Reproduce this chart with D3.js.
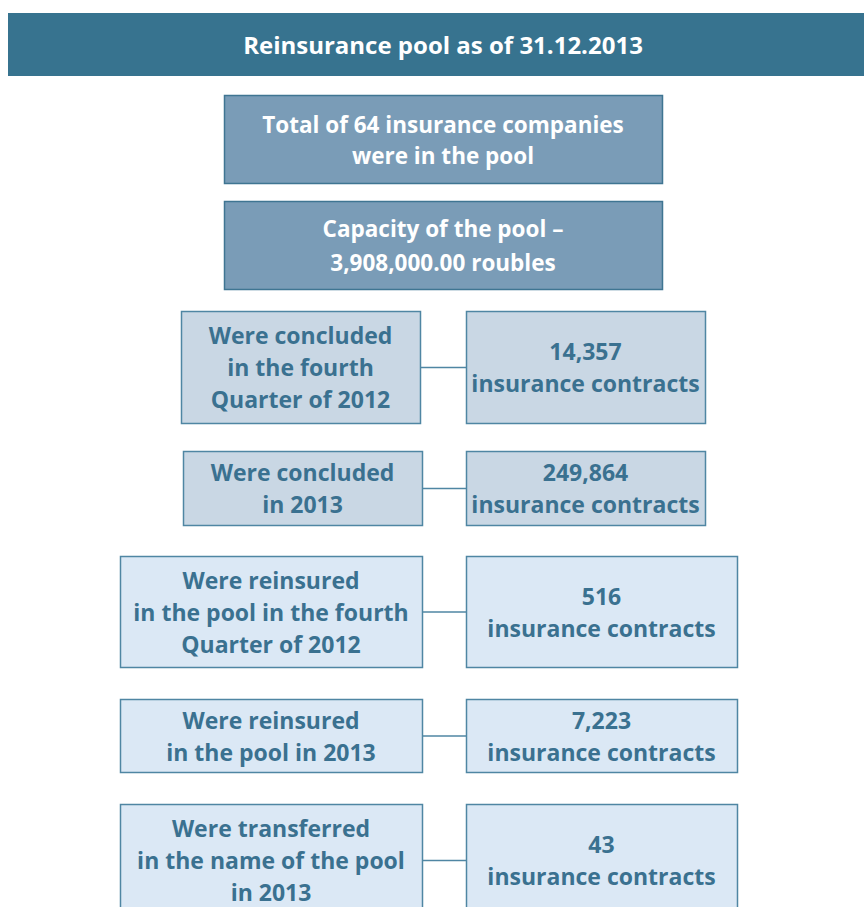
<!DOCTYPE html>
<html>
<head>
<meta charset="utf-8">
<script src="https://cdn.jsdelivr.net/npm/d3@7"></script>
<style>
  body { margin: 0; background: #fff; }
  svg text { font-family: "Open Sans", Lato, sans-serif; font-weight: 700; }
</style>
</head>
<body>
<div id="chart"></div>
<script>
'use strict';

// data
var title = "Reinsurance pool as of 31.12.2013";
var poolFacts = [
  ["Total of 64 insurance companies", "were in the pool"],
  ["Capacity of the pool \u2013", "3,908,000.00 roubles"]
];
var stageLabels = [
  ["Were concluded", "in the fourth", "Quarter of 2012"],
  ["Were concluded", "in 2013"],
  ["Were reinsured", "in the pool in the fourth", "Quarter of 2012"],
  ["Were reinsured", "in the pool in 2013"],
  ["Were transferred", "in the name of the pool", "in 2013"]
];
var contractCounts = [14357, 249864, 516, 7223, 43];
var countUnit = "insurance contracts";

var width = 864, height = 907;
var fmt = d3.format(",");

var svg = d3.select("#chart").append("svg")
  .attr("width", width)
  .attr("height", height);

// header bar
svg.append("rect")
  .attr("x", 8).attr("y", 13)
  .attr("width", width - 8).attr("height", 63)
  .attr("fill", "#37738f");
svg.append("text")
  .attr("x", 443).attr("y", 54)
  .attr("text-anchor", "middle")
  .attr("fill", "#fff")
  .attr("font-size", 24)
  .text(title);

// top boxes
var topY = [95, 201];
var topH = [88, 88];
var topLine = [31, 34];
poolFacts.forEach(function(lines, i) {
  var g = svg.append("g").attr("transform", "translate(224," + topY[i] + ")");
  g.append("rect")
    .attr("x", 0.5).attr("y", 0.5)
    .attr("width", 438).attr("height", topH[i])
    .attr("fill", "#7a9cb7")
    .attr("stroke", "#3f7592").attr("stroke-width", 1.5);
  var t = g.append("text")
    .attr("text-anchor", "middle")
    .attr("fill", "#fff")
    .attr("font-size", 22.5);
  var y0 = topH[i] / 2 - (lines.length - 1) * topLine[i] / 2 + 9;
  lines.forEach(function(l, j) {
    t.append("tspan").attr("x", 219).attr("y", y0 + j * topLine[i]).text(l);
  });
});

// stage rows
var rows = [
  {y: 311, h: 112, lx: 181, lw: 239, rw: 239, fill: "#c9d7e4"},
  {y: 451, h: 74,  lx: 183, lw: 239, rw: 239, fill: "#c9d7e4"},
  {y: 556, h: 111, lx: 120, lw: 302, rw: 271, fill: "#dbe8f5"},
  {y: 699, h: 73,  lx: 120, lw: 302, rw: 271, fill: "#dbe8f5"},
  {y: 804, h: 112, lx: 120, lw: 302, rw: 271, fill: "#dbe8f5"}
];
var rx = 466;
var lineH = 32;
var fontSize = 23;
var textColor = "#3a7190";
var stroke = "#4f86a3";

var g = svg.selectAll("g.row")
  .data(stageLabels.map(function(d, i) {
    return {label: d, count: contractCounts[i], box: rows[i]};
  }))
  .enter().append("g")
  .attr("class", "row");

g.append("line")
  .attr("x1", function(d) { return d.box.lx + d.box.lw; })
  .attr("x2", rx)
  .attr("y1", function(d) { return d.box.y + d.box.h / 2 + 0.5; })
  .attr("y2", function(d) { return d.box.y + d.box.h / 2 + 0.5; })
  .attr("stroke", stroke).attr("stroke-width", 1.5);

g.append("rect")
  .attr("x", function(d) { return d.box.lx + 0.5; })
  .attr("y", function(d) { return d.box.y + 0.5; })
  .attr("width", function(d) { return d.box.lw; })
  .attr("height", function(d) { return d.box.h; })
  .attr("fill", function(d) { return d.box.fill; })
  .attr("stroke", stroke).attr("stroke-width", 1.5);

g.append("rect")
  .attr("x", rx + 0.5)
  .attr("y", function(d) { return d.box.y + 0.5; })
  .attr("width", function(d) { return d.box.rw; })
  .attr("height", function(d) { return d.box.h; })
  .attr("fill", function(d) { return d.box.fill; })
  .attr("stroke", stroke).attr("stroke-width", 1.5);

g.each(function(d) {
  var sel = d3.select(this);
  var cy = d.box.y + d.box.h / 2;
  var lt = sel.append("text")
    .attr("text-anchor", "middle")
    .attr("fill", textColor)
    .attr("font-size", fontSize);
  var y0 = cy - (d.label.length - 1) * lineH / 2 + 9;
  d.label.forEach(function(l, j) {
    lt.append("tspan")
      .attr("x", d.box.lx + d.box.lw / 2)
      .attr("y", y0 + j * lineH)
      .text(l);
  });
  var rt = sel.append("text")
    .attr("text-anchor", "middle")
    .attr("fill", textColor)
    .attr("font-size", fontSize);
  var lines = [fmt(d.count), countUnit];
  var y1 = cy - lineH / 2 + 9;
  lines.forEach(function(l, j) {
    rt.append("tspan")
      .attr("x", rx + d.box.rw / 2)
      .attr("y", y1 + j * lineH)
      .text(l);
  });
});
</script>
</body>
</html>
